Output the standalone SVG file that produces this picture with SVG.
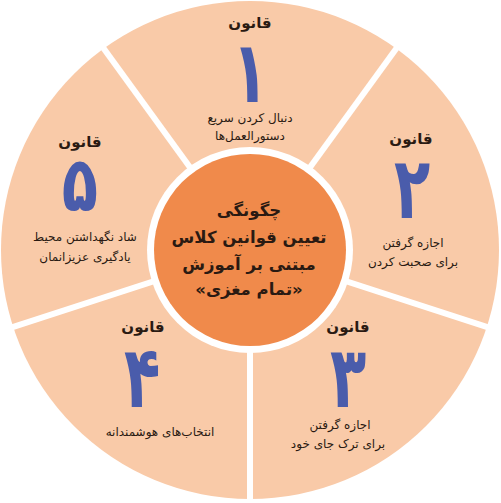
<svg xmlns="http://www.w3.org/2000/svg" width="501" height="503" viewBox="0 0 501 503">
<style>
.lbl{font-family:"DejaVu Sans",sans-serif;font-weight:bold;font-size:15px;fill:#2a1a12;text-anchor:middle;direction:rtl}
.num{font-family:"DejaVu Sans",sans-serif;font-weight:bold;font-size:66px;fill:#4a5cab;text-anchor:middle;direction:rtl}
.txt{font-family:"DejaVu Sans",sans-serif;font-size:12px;fill:#2a1a12;text-anchor:middle;direction:rtl}
.ctr{font-family:"DejaVu Sans",sans-serif;font-weight:bold;font-size:16.5px;fill:#2a1a12;text-anchor:middle;direction:rtl}
.sep{stroke:#ffffff;stroke-width:6;stroke-linecap:butt}
</style>
<rect width="501" height="503" fill="#ffffff"/>
<circle id="ring" cx="250" cy="250" r="249" fill="#f9caa8"/>
<g id="connectors">
<line class="sep" x1="250" y1="250" x2="489.7" y2="327.9"/>
<line class="sep" x1="250" y1="250" x2="250" y2="503"/>
<line class="sep" x1="250" y1="250" x2="10.3" y2="327.9"/>
<line class="sep" x1="250" y1="250" x2="101.9" y2="46.1"/>
<line class="sep" x1="250" y1="250" x2="398.1" y2="46.1"/>
</g>
<g id="rule1">
<text class="lbl" x="250" y="28">قانون</text>
<text class="num" transform="translate(250,102) scale(0.9,1.3)">۱</text>
<text class="txt" x="250" y="122">دنبال کردن سریع</text>
<text class="txt" x="250" y="140">دستورالعمل&#x200C;ها</text>
</g>
<g id="rule2">
<text class="lbl" x="411" y="144">قانون</text>
<text class="num" transform="translate(412,218) scale(0.9,1.3)">۲</text>
<text class="txt" x="413" y="247">اجازه گرفتن</text>
<text class="txt" x="413" y="266">برای صحبت کردن</text>
</g>
<g id="rule3">
<text class="lbl" x="348" y="332">قانون</text>
<text class="num" transform="translate(348,407) scale(0.9,1.3)">۳</text>
<text class="txt" x="340" y="429">اجازه گرفتن</text>
<text class="txt" x="338" y="448">برای ترک جای خود</text>
</g>
<g id="rule4">
<text class="lbl" x="143" y="332">قانون</text>
<text class="num" transform="translate(142,407) scale(0.9,1.3)">۴</text>
<text class="txt" x="160" y="436">انتخاب&#x200C;های هوشمندانه</text>
</g>
<g id="rule5">
<text class="lbl" x="80" y="147">قانون</text>
<text class="num" transform="translate(80,211) scale(0.9,1.15)">۵</text>
<text class="txt" x="85" y="241">شاد نگهداشتن محیط</text>
<text class="txt" x="85" y="261">یادگیری عزیزانمان</text>
</g>
<g id="center">
<circle cx="250" cy="250" r="103" fill="#ffffff"/>
<circle cx="250" cy="250" r="96" fill="#f08a4b"/>
<text class="ctr" x="249" y="216">چگونگی</text>
<text class="ctr" x="249" y="243">تعیین قوانین کلاس</text>
<text class="ctr" x="249" y="270">مبتنی بر آموزش</text>
<text class="ctr" x="249" y="295">«تمام مغزی»</text>
</g>
</svg>
